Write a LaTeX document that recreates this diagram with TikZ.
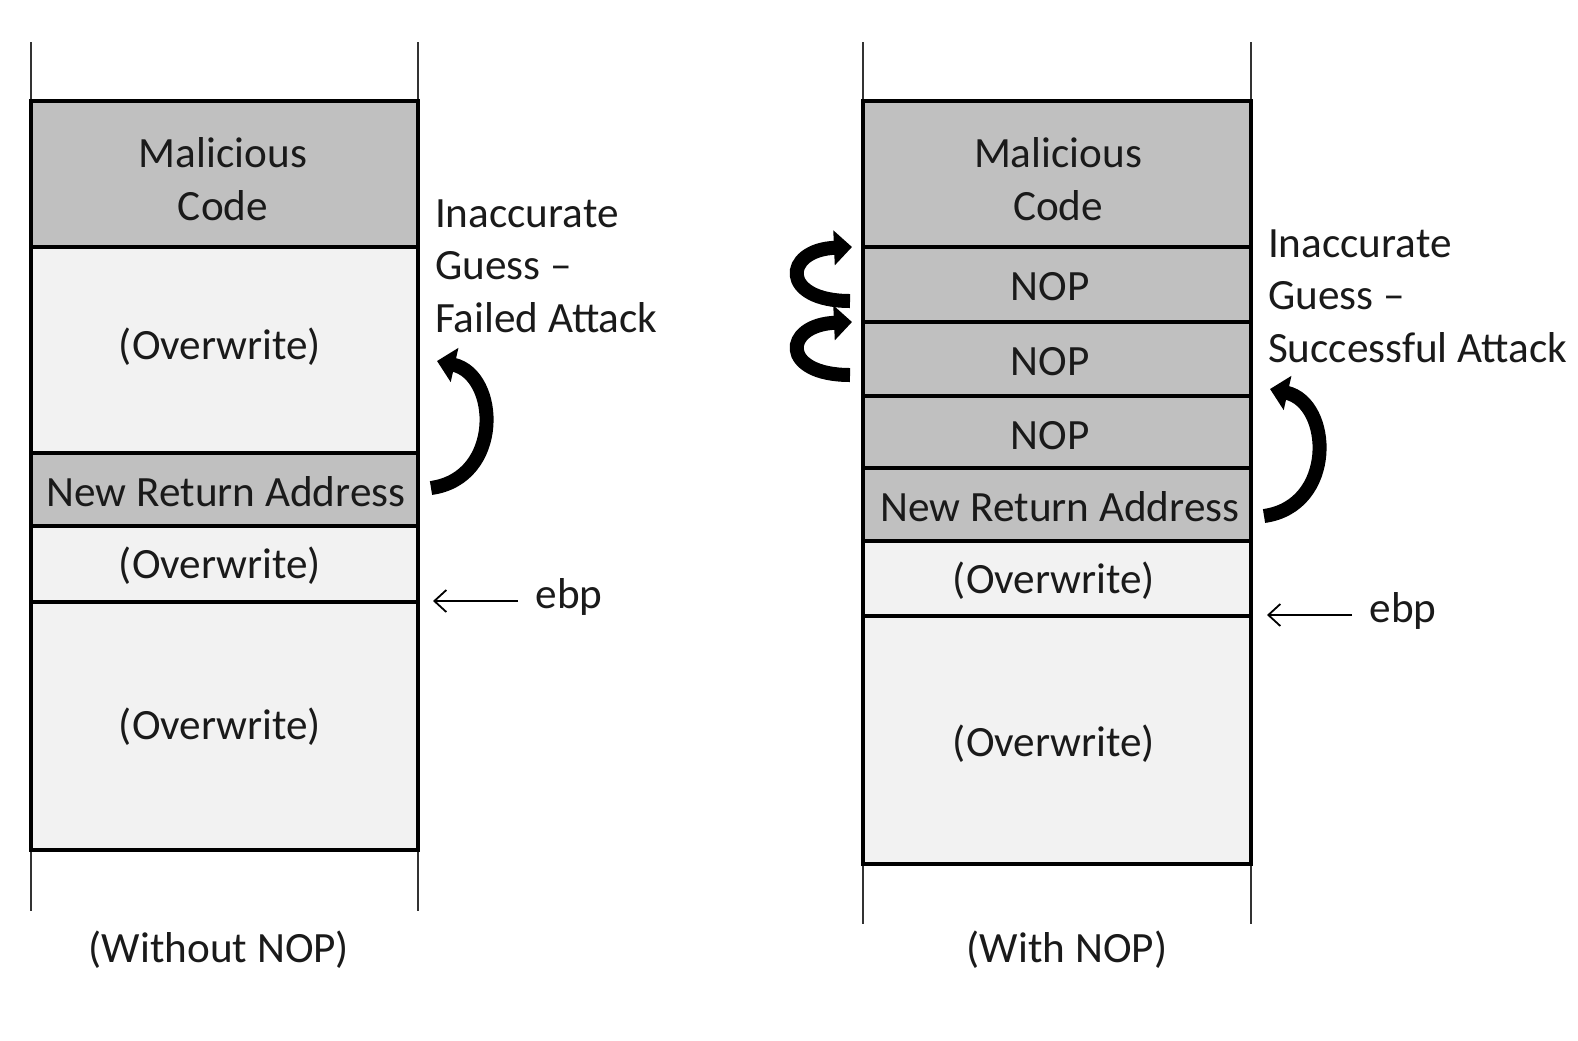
\documentclass[tikz,border=0pt]{standalone}
\usepackage{fontspec}
\setmainfont{Carlito}
\usetikzlibrary{arrows.meta}
\definecolor{dgray}{HTML}{C0C0C0}
\definecolor{lgray}{HTML}{F2F2F2}
\definecolor{ink}{HTML}{1A1A1A}
\begin{document}
\begin{tikzpicture}[x=0.5pt,y=-0.5pt,
  every node/.style={font=\fontsize{21.6pt}{26.2pt}\selectfont, text=ink, align=center},
  memcell/.style={draw=black, line width=1.7pt, inner sep=0pt},
  dark/.style={memcell, fill=dgray},
  light/.style={memcell, fill=lgray},
  sideline/.style={draw=black!80, line width=0.9pt},
  ptr/.style={draw=black, line width=0.9pt, -{Straight Barb[length=6pt,width=11pt,line width=0.9pt]}},
  jump/.style={draw=black, line width=7pt, -{Triangle[length=9pt,width=17pt]}},
  lbl/.style={anchor=west, align=left}
]
\useasboundingbox (0,0) rectangle (1578,1040);
\fill[white] (0,0) rectangle (1578,1040);

% ---------- left stack ----------
\draw[sideline] (31,42) -- (31,911);
\draw[sideline] (418,42) -- (418,911);
\node[dark, minimum width=193.5pt, minimum height=73pt] (lm) at (224.5,174) {};
\node (lmt) at (223,179) {Malicious\\Code};
\node[light, minimum width=193.5pt, minimum height=103pt] (lo1) at (224.5,350) {};
\node (lo1t) at (220,347) {(Overwrite)};
\node[dark, minimum width=193.5pt, minimum height=36.5pt] (lr) at (224.5,489.5) {};
\node (lrt) at (226,492) {New Return Address};
\node[light, minimum width=193.5pt, minimum height=38pt] (lo2) at (224.5,564) {};
\node (lo2t) at (220,566) {(Overwrite)};
\node[light, minimum width=193.5pt, minimum height=124pt] (lo3) at (224.5,726) {};
\node (lo3t) at (220,727) {(Overwrite)};

\node[lbl] (lguess) at (428,266) {Inaccurate\\Guess –\\Failed Attack};
\node (lebp) at (569,597) {ebp};
\coordinate (lebpA) at (518,601);
\coordinate (lebpB) at (433,601);
\draw[ptr] (lebpA) -- (lebpB);

\coordinate (ljT) at (431,488);
\coordinate (ljH) at (437,361);
\draw[jump] (ljT) .. controls (503,478) and (499,375) .. (ljH);

\node (lcap) at (219,950) {(Without NOP)};

% ---------- right stack ----------
\draw[sideline] (863,42) -- (863,924);
\draw[sideline] (1251,42) -- (1251,924);
\node[dark, minimum width=194pt, minimum height=73pt] (rm) at (1057,174) {};
\node (rmt) at (1058,179) {Malicious\\Code};
\node[dark, minimum width=194pt, minimum height=37.5pt] (rn1) at (1057,284.5) {};
\node (rn1t) at (1050,287) {NOP};
\node[dark, minimum width=194pt, minimum height=37pt] (rn2) at (1057,359) {};
\node (rn2t) at (1050,362) {NOP};
\node[dark, minimum width=194pt, minimum height=36pt] (rn3) at (1057,432) {};
\node (rn3t) at (1050,436) {NOP};
\node[dark, minimum width=194pt, minimum height=36.5pt] (rr) at (1057,504.5) {};
\node (rrt) at (1060,507) {New Return Address};
\node[light, minimum width=194pt, minimum height=37.5pt] (ro1) at (1057,578.5) {};
\node (ro1t) at (1054,581) {(Overwrite)};
\node[light, minimum width=194pt, minimum height=124pt] (ro2) at (1057,740) {};
\node (ro2t) at (1054,744) {(Overwrite)};

\node[lbl] (rguess) at (1261,296) {Inaccurate\\Guess –\\Successful Attack};
\node (rebp) at (1403,611) {ebp};
\coordinate (rebpA) at (1352,615);
\coordinate (rebpB) at (1267,615);
\draw[ptr] (rebpA) -- (rebpB);

\coordinate (rjT) at (1264,516);
\coordinate (rjH) at (1270,389);
\draw[jump] (rjT) .. controls (1336,506) and (1332,403) .. (rjH);

% squiggle jumps over NOPs
\coordinate (s1T) at (850,301);
\coordinate (s1H) at (852,247);
\draw[jump] (s1T) .. controls (780,301) and (783,250) .. (s1H);
\coordinate (s2T) at (850,375);
\coordinate (s2H) at (852,322);
\draw[jump] (s2T) .. controls (780,375) and (783,325) .. (s2H);

\node (rcap) at (1067,950) {(With NOP)};
\end{tikzpicture}
\end{document}
